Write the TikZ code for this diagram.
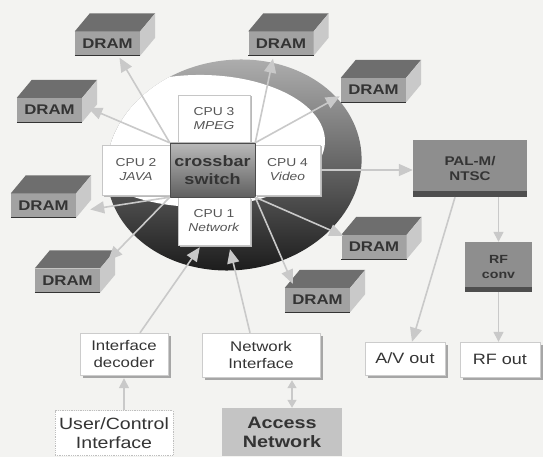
\documentclass[tikz,border=0pt]{standalone}
\usepackage{fontspec}
\setmainfont{Liberation Sans}[FakeStretch=1.2]
\usetikzlibrary{arrows.meta,calc,fadings,shadows}
\definecolor{bgc}{HTML}{F3F3F1}
\definecolor{linkc}{HTML}{C9C9C9}
\definecolor{dramf}{HTML}{A2A2A2}
\definecolor{dramt}{HTML}{6E6E6E}
\definecolor{drams}{HTML}{C9C9C9}
\definecolor{txtc}{HTML}{343434}
\definecolor{cputxt}{HTML}{555555}
\definecolor{palc}{HTML}{8E8E8E}
\definecolor{palsh}{HTML}{4E4E4E}
\definecolor{accc}{HTML}{C4C4C4}
\newcommand\myfs[2]{\fontsize{#1}{#2}\selectfont}
\pgfdeclareradialshading{hlshade}{\pgfpoint{0bp}{0bp}}{color(0bp)=(white); color(30bp)=(white); color(50bp)=(black)}
\pgfdeclarefading{hl}{\pgfuseshading{hlshade}}
\begin{document}
\begin{tikzpicture}[x=1pt,y=-1pt,
  lnk/.style={draw=linkc, line width=1.6pt, -{Triangle[length=14pt,width=12pt,fill=linkc]}},
  slnk/.style={draw=linkc, line width=1.4pt, -{Triangle[length=10pt,width=10pt,fill=linkc]}},
  dram/.style={rectangle, fill=dramf, minimum width=65pt, minimum height=24pt, inner sep=0pt, text=txtc, font=\myfs{14}{14}\bfseries},
  cpubox/.style={rectangle, draw=gray!45, fill=white, inner sep=0pt, align=center, text=cputxt, font=\myfs{11.5}{14},
     drop shadow={shadow xshift=1.5pt, shadow yshift=-1.5pt, fill=gray!55, opacity=1}},
  xbar/.style={rectangle, top color=gray!55, middle color=gray!30, bottom color=gray!75!black, draw=gray!60!black, inner sep=0pt, align=center, text=txtc, font=\myfs{15}{18}\bfseries, minimum width=85pt, minimum height=54pt},
  darkbox/.style={rectangle, fill=palc, inner sep=0pt, align=center, text=txtc},
  wbox/.style={rectangle, draw=gray!40, fill=white, inner sep=0pt, align=center, text=txtc,
     drop shadow={shadow xshift=2.5pt, shadow yshift=-2.5pt, fill=gray!70, opacity=1}}
]
\useasboundingbox (0,0) rectangle (543,457);
\fill[bgc] (0,0) rectangle (543,457);

% ring / ellipse
\begin{scope}
  \clip[rotate around={8:(234,165)}] (234,165) ellipse [x radius=128, y radius=105];
  \shade[top color=gray!62, bottom color=black!90] (95,55) rectangle (370,275);
  \fill[white, path fading=hl] (200,141) ellipse [x radius=125, y radius=66];
\end{scope}

% DRAM modules
\node[dram] (d1) at (107.5,43.5) {DRAM};
\node[dram] (d2) at (281,43.5) {DRAM};
\node[dram] (d3) at (373.5,90) {DRAM};
\node[dram] (d4) at (49.5,110) {DRAM};
\node[dram] (d5) at (43.5,205.5) {DRAM};
\node[dram] (d6) at (67.5,280.5) {DRAM};
\node[dram] (d7) at (374,247) {DRAM};
\node[dram] (d8) at (317.5,300) {DRAM};
\foreach \n in {d1,d2,d3,d4,d5,d6,d7,d8}{
  \fill[dramt] (\n.north west) -- ++(15,-18) -- ($(\n.north east)+(15,-18)$) -- (\n.north east) -- cycle;
  \fill[drams] (\n.north east) -- ++(15,-18) -- ($(\n.south east)+(15,-18)$) -- (\n.south east) -- cycle;
  \draw[gray!40!black, line width=0.6pt] (\n.south west) -- (\n.south east);
}

% CPUs and crossbar
\node[cpubox, minimum width=72pt, minimum height=48pt] (cpu3) at (214,119) {CPU 3\\\textit{MPEG}};
\node[cpubox, minimum width=68pt, minimum height=50pt] (cpu2) at (136,170) {CPU 2\\\textit{JAVA}};
\node[cpubox, minimum width=65pt, minimum height=50pt] (cpu4) at (287.5,170) {CPU 4\\\textit{Video}};
\node[cpubox, minimum width=72pt, minimum height=48pt] (cpu1) at (214,221) {CPU 1\\\textit{Network}};
\node[xbar] (xb) at (212.5,170) {crossbar\\switch};

% video path
\node[darkbox, minimum width=114pt, minimum height=57pt, font=\myfs{12.6}{15.5}\bfseries] (pal) at (470,168.5) {PAL-M/\\NTSC};
\fill[palsh] (pal.south west) rectangle ($(pal.south east)+(0,-6)$);
\node[darkbox, minimum width=67pt, minimum height=50pt, font=\myfs{11.8}{14.5}\bfseries] (rfc) at (498.5,267) {RF\\conv};
\fill[palsh] (rfc.south west) rectangle ($(rfc.south east)+(0,-5)$);
\node[wbox, minimum width=80pt, minimum height=33pt, font=\myfs{15}{17}] (avout) at (405,358.5) {A/V out};
\node[wbox, minimum width=80pt, minimum height=35pt, font=\myfs{15}{17}] (rfout) at (500,359.5) {RF out};

% inputs
\node[wbox, minimum width=88pt, minimum height=42pt, font=\myfs{14}{17}] (idec) at (124,354) {Interface\\decoder};
\node[wbox, minimum width=118pt, minimum height=44pt, font=\myfs{14}{17}] (nif) at (261,355) {Network\\Interface};
\node[rectangle, draw=gray!50, densely dotted, line width=0.8pt, fill=white, inner sep=0pt, align=center, text=txtc,
      minimum width=118pt, minimum height=45pt, font=\myfs{16.3}{19}] (uci) at (114,433) {User/Control\\Interface};
\node[rectangle, fill=accc, inner sep=0pt, align=center, text=txtc,
      minimum width=120pt, minimum height=48pt, font=\myfs{16.5}{19}\bfseries] (acc) at (282,432) {Access\\Network};

% crossbar to DRAM links
\draw[lnk] (xb.north west) -- ($(d1.south)+(12,2)$);
\draw[lnk] (xb.north west) -- ($(d4.east)+(6,-2)$);
\draw[lnk] (xb.north east) -- ($(d2.south)+(-8,3)$);
\draw[lnk] (xb.north east) -- ($(d3.south west)+(-1,-6)$);
\draw[lnk] (xb.south west) -- ($(d5.east)+(14,4)$);
\draw[lnk] (xb.south west) -- ($(d6.north east)+(8,-8)$);
\draw[lnk] (xb.south east) -- ($(d7.north west)+(2,1)$);
\draw[lnk] (xb.south east) -- ($(d8.north west)+(8,-4)$);

% other links
\draw[lnk] (cpu4.east) -- (pal.west |- cpu4.east);
\draw[lnk] ($(pal.south)+(-15,0)$) -- ($(avout.north)+(7,0)$);
\draw[slnk] (pal.south -| rfc.north) -- (rfc.north);
\draw[slnk] (rfc.south) -- (rfc.south |- rfout.north);
\draw[lnk] ($(idec.north)+(16,0)$) -- ($(cpu1.south west)+(22,2)$);
\draw[lnk] ($(nif.north)+(-11,0)$) -- ($(cpu1.south)+(16,4)$);
\draw[slnk] (idec.south |- uci.north) -- ($(idec.south)+(0,3)$);
\draw[slnk, {Triangle[length=8pt,width=9pt,fill=linkc]}-{Triangle[length=8pt,width=9pt,fill=linkc]}] ($(acc.north)+(10,0)$) -- ($(nif.south)+(31,3)$);
\end{tikzpicture}
\end{document}
